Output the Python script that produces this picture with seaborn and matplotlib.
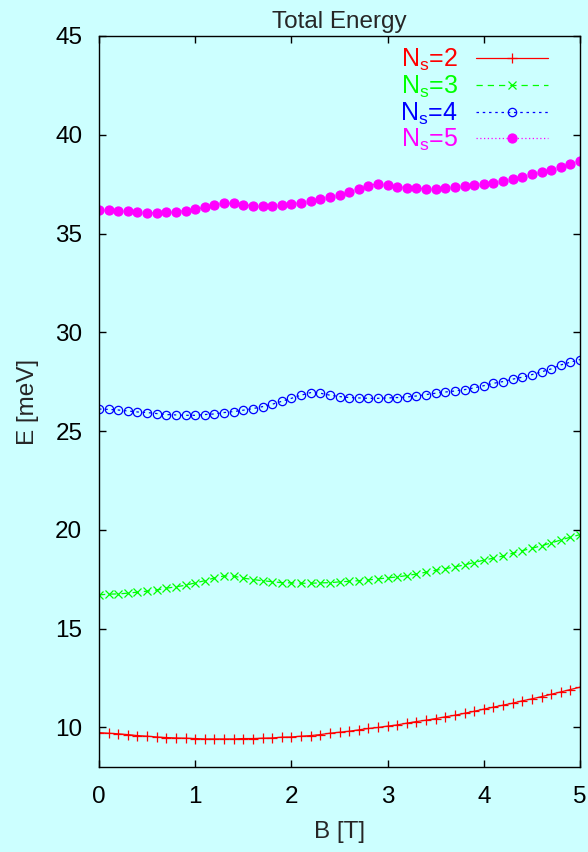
import matplotlib
matplotlib.use("Agg")
import matplotlib.pyplot as plt
import pandas as pd
import seaborn as sns

# Magnetic field grid [T]
B_field = [0.0, 0.1, 0.2, 0.3, 0.4, 0.5, 0.6, 0.7, 0.8, 0.9,
           1.0, 1.1, 1.2, 1.3, 1.4, 1.5, 1.6, 1.7, 1.8, 1.9,
           2.0, 2.1, 2.2, 2.3, 2.4, 2.5, 2.6, 2.7, 2.8, 2.9,
           3.0, 3.1, 3.2, 3.3, 3.4, 3.5, 3.6, 3.7, 3.8, 3.9,
           4.0, 4.1, 4.2, 4.3, 4.4, 4.5, 4.6, 4.7, 4.8, 4.9, 5.0]

# Total energy [meV] for N_s = 2..5
E_ns2 = [9.74, 9.71, 9.68, 9.64, 9.59, 9.56, 9.52, 9.49, 9.47, 9.46,
         9.44, 9.42, 9.42, 9.42, 9.42, 9.44, 9.44, 9.46, 9.47, 9.51,
         9.52, 9.56, 9.59, 9.64, 9.71, 9.76, 9.81, 9.88, 9.95, 10.00,
         10.07, 10.13, 10.22, 10.30, 10.37, 10.45, 10.54, 10.62, 10.72, 10.82,
         10.93, 11.03, 11.13, 11.23, 11.35, 11.45, 11.56, 11.68, 11.80, 11.92, 12.04]

E_ns3 = [16.71, 16.75, 16.76, 16.80, 16.85, 16.90, 16.96, 17.05, 17.12, 17.20,
         17.32, 17.43, 17.57, 17.67, 17.66, 17.56, 17.49, 17.43, 17.38, 17.33,
         17.32, 17.30, 17.30, 17.32, 17.33, 17.37, 17.40, 17.43, 17.47, 17.52,
         17.57, 17.62, 17.69, 17.77, 17.86, 17.96, 18.04, 18.13, 18.23, 18.35,
         18.47, 18.57, 18.68, 18.82, 18.95, 19.07, 19.20, 19.34, 19.49, 19.63, 19.76]

E_ns4 = [26.12, 26.10, 26.07, 26.02, 25.97, 25.94, 25.89, 25.84, 25.82, 25.80,
         25.80, 25.84, 25.87, 25.94, 25.99, 26.06, 26.14, 26.24, 26.36, 26.51,
         26.66, 26.82, 26.95, 26.92, 26.82, 26.75, 26.70, 26.68, 26.66, 26.66,
         26.68, 26.70, 26.73, 26.78, 26.85, 26.92, 26.98, 27.03, 27.10, 27.19,
         27.30, 27.42, 27.51, 27.63, 27.73, 27.86, 28.00, 28.15, 28.35, 28.49, 28.62]

E_ns5 = [36.19, 36.19, 36.16, 36.13, 36.09, 36.06, 36.06, 36.08, 36.11, 36.16,
         36.23, 36.33, 36.45, 36.53, 36.53, 36.46, 36.41, 36.39, 36.39, 36.43,
         36.48, 36.57, 36.67, 36.75, 36.87, 36.95, 37.09, 37.24, 37.42, 37.53,
         37.46, 37.38, 37.33, 37.29, 37.27, 37.27, 37.31, 37.34, 37.39, 37.44,
         37.51, 37.58, 37.66, 37.76, 37.88, 38.00, 38.10, 38.22, 38.37, 38.52, 38.68]

series_labels = [r"N$_{\mathregular{s}}$=2", r"N$_{\mathregular{s}}$=3",
                 r"N$_{\mathregular{s}}$=4", r"N$_{\mathregular{s}}$=5"]
x_ticks = [0, 1, 2, 3, 4, 5]
y_ticks = [10, 15, 20, 25, 30, 35, 40, 45]

BG = "#ccffff"

sns.set_style("ticks")
plt.rcParams["font.family"] = ["Liberation Sans", "DejaVu Sans"]
plt.rcParams["mathtext.fontset"] = "custom"
plt.rcParams["mathtext.rm"] = "Liberation Sans"

df = pd.DataFrame({"B": B_field, "Ns2": E_ns2, "Ns3": E_ns3,
                   "Ns4": E_ns4, "Ns5": E_ns5})

fig = plt.figure(figsize=(5.88, 8.52), dpi=100, facecolor=BG)
ax = fig.add_axes([99 / 588, 1 - 767 / 852, 481 / 588, 731 / 852])
ax.set_facecolor(BG)

styles = [
    dict(col="Ns2", color="#ff0000", marker="+", ls="-", ms=7, mfc="#ff0000"),
    dict(col="Ns3", color="#00ff00", marker="x", ls=(0, (5, 4)), ms=6, mfc="#00ff00"),
    dict(col="Ns4", color="#0000ff", marker="o", ls=(0, (2, 3)), ms=6, mfc="none"),
    dict(col="Ns5", color="#ff00ff", marker="o", ls=(0, (1, 2)), ms=6.5, mfc="#ff00ff"),
]

for st in styles:
    sns.lineplot(data=df, x="B", y=st["col"], ax=ax, color=st["color"],
                 marker=st["marker"], markersize=st["ms"],
                 markerfacecolor=st["mfc"], markeredgecolor=st["color"],
                 markeredgewidth=0.9, linestyle=st["ls"], linewidth=0.9,
                 errorbar=None, legend=False)

ax.set_xlim(0, 5)
ax.set_ylim(8, 45)
ax.set_xticks(x_ticks)
ax.set_yticks(y_ticks)
ax.tick_params(direction="in", length=5, width=1, color="black",
               top=True, right=True, labelsize=17.5, labelcolor="black")
ax.tick_params(axis="x", pad=14)
ax.tick_params(axis="y", pad=12)
for sp in ax.spines.values():
    sp.set_color("black")
    sp.set_linewidth(1)

ax.set_xlabel("B [T]", fontsize=17.5)
ax.set_ylabel("E [meV]", fontsize=17.5)
ax.xaxis.set_label_coords(0.5, -(821 - 767) / 731, transform=ax.transAxes)
ax.yaxis.set_label_coords(-(99 - 39) / 481, 0.5, transform=ax.transAxes)
ax.set_title("Total Energy", fontsize=17.5, pad=6)

leg = ax.legend(handles=ax.lines[:4], labels=series_labels,
                loc="upper right", bbox_to_anchor=(548 / 588, 1 - 47 / 852),
                bbox_transform=fig.transFigure, frameon=False,
                markerfirst=False, numpoints=1, handlelength=2.9,
                handletextpad=0.7, labelspacing=0.02, borderpad=0,
                borderaxespad=0, fontsize=18, labelcolor="linecolor")

fig.savefig("out.png", dpi=100, facecolor=BG)
